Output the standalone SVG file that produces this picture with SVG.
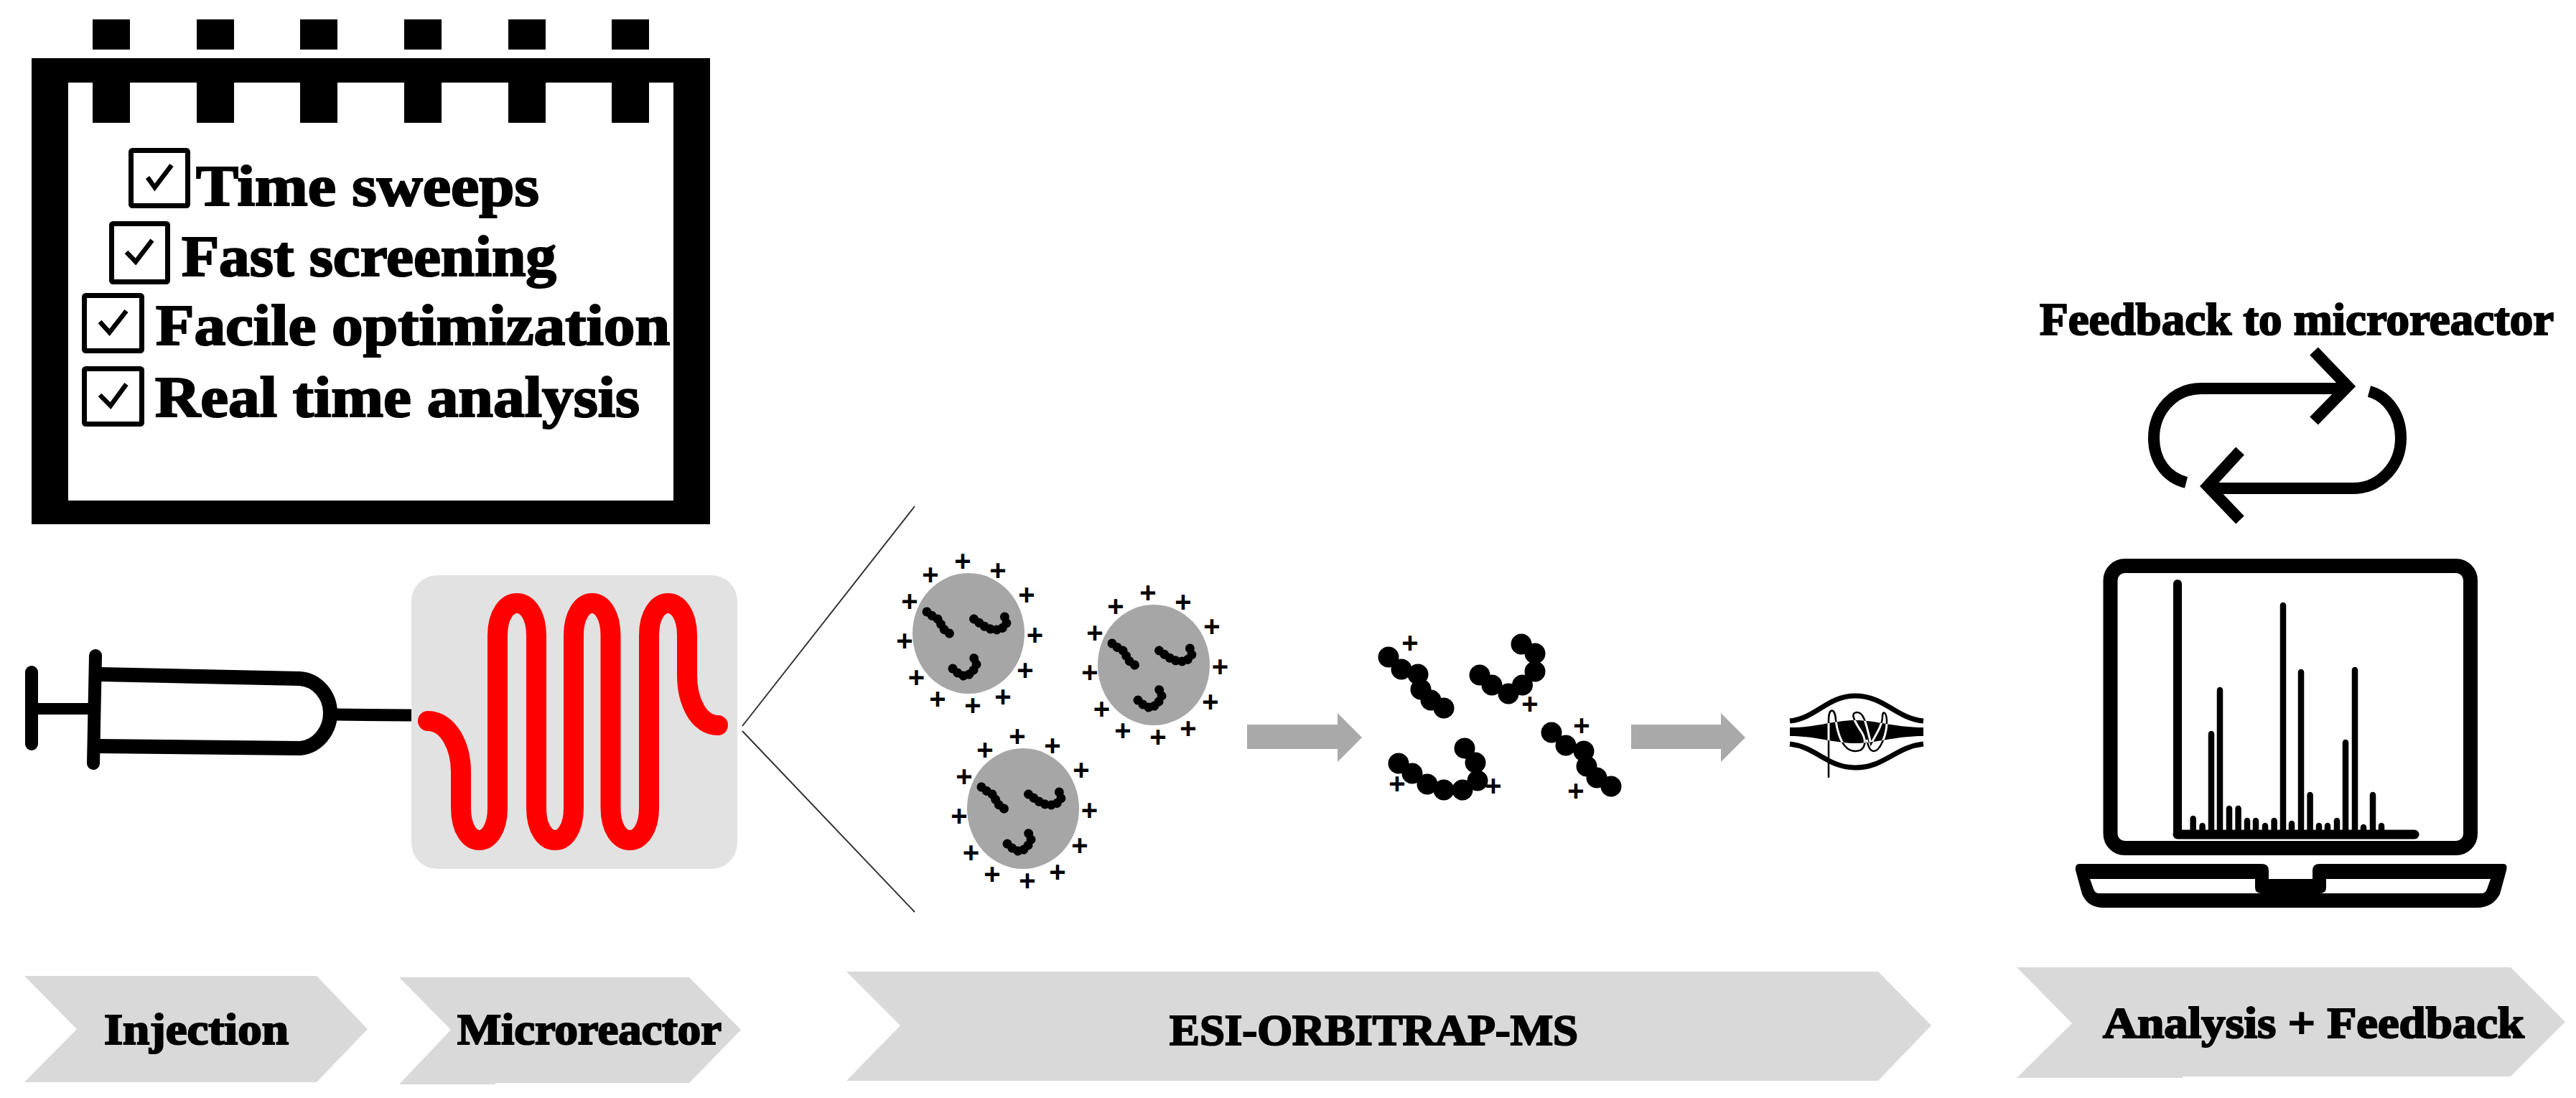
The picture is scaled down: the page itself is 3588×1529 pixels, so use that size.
<svg xmlns="http://www.w3.org/2000/svg" xmlns:xlink="http://www.w3.org/1999/xlink" width="3588" height="1529" viewBox="0 0 3588 1529">
<style>
.t{font-family:"Liberation Serif","Times New Roman",serif;font-weight:700;fill:#000;stroke:#000;stroke-width:2.200}
.p{font-family:"Liberation Sans",Arial,sans-serif;font-weight:700;font-size:40px;fill:#000;text-anchor:middle}
.chev{fill:#d9d9d9}
.box{fill:#fff;stroke:#000;stroke-width:7}
.chk{fill:none;stroke:#000;stroke-width:6.500}
.k{fill:#000}
.ln{fill:none;stroke:#000;stroke-linecap:round}
.bar{stroke:#000;stroke-width:8.500;stroke-linecap:round;fill:none}
.loop{fill:none;stroke:#000;stroke-width:16;stroke-miterlimit:10}
.gar{fill:#a9a9a9}
.bead{fill:none;stroke:#000;stroke-width:13;stroke-linecap:round;stroke-linejoin:round;stroke-dasharray:0.01 9}
</style>
<defs>
<g id="drop">
<ellipse cx="0" cy="0" rx="78" ry="84" fill="#a6a6a6"/>
<path class="bead" d="M-58 -30L-50 -24L-41 -19L-36 -7L-24 2"/>
<path class="bead" d="M7.500 -20L16 -14L25 -8L34 -5L45 -5L53 -14L50 -24L46 -29"/>
<path class="bead" d="M-22 49L-14 56L-5 60L5 55L11 43L7 33L2 29"/>
</g>
<clipPath id="spindleClip"><path d="M2493 1013C2530 1013 2555 1003 2584 1003C2613 1003 2640 1013 2679 1013L2679 1025C2640 1025 2613 1035 2584 1035C2555 1035 2530 1025 2493 1025Z"/></clipPath>
<path id="wire" d="M2547 1083L2547 1003C2547 985 2556 985 2557 1003C2560 1025 2568 1046 2584 1046C2600 1046 2600 1030 2592 1018C2580 1000 2578 992 2587 992C2597 992 2600 1012 2606 1036C2612 1024 2622 1010 2622 998C2622 988 2628 992 2628 1005C2628 1025 2618 1046 2610 1046C2604 1046 2602 1038 2600 1030"/>
</defs>

<g id="notebook">
<path class="k" fill-rule="evenodd" d="M44 81H989V730H44ZM95 115V697H938V115Z"/>
<rect class="k" x="129" y="27" width="52" height="42"/><rect class="k" x="274" y="27" width="52" height="42"/><rect class="k" x="418" y="27" width="52" height="42"/><rect class="k" x="563" y="27" width="52" height="42"/><rect class="k" x="708" y="27" width="52" height="42"/><rect class="k" x="852" y="27" width="52" height="42"/>
<rect class="k" x="129" y="112" width="52" height="59"/><rect class="k" x="274" y="112" width="52" height="59"/><rect class="k" x="418" y="112" width="52" height="59"/><rect class="k" x="563" y="112" width="52" height="59"/><rect class="k" x="708" y="112" width="52" height="59"/><rect class="k" x="852" y="112" width="52" height="59"/>
<rect class="box" x="182.500" y="209.500" width="79" height="77" rx="2"/><path class="chk" d="M205.500 247L215.500 261L239 230"/>
<rect class="box" x="155.500" y="311.500" width="78" height="81" rx="2"/><path class="chk" d="M176 351L189 364.500L212 334.500"/>
<rect class="box" x="117.500" y="411.500" width="80" height="77" rx="2"/><path class="chk" d="M139 448L152.500 463L176 433"/>
<rect class="box" x="117.500" y="513.500" width="80" height="77" rx="2"/><path class="chk" d="M139 550L154 565L176 535"/>
<text class="t" x="273" y="286" font-size="80" textLength="478" lengthAdjust="spacingAndGlyphs">Time sweeps</text>
<text class="t" x="253" y="384" font-size="80" textLength="522" lengthAdjust="spacingAndGlyphs">Fast screening</text>
<text class="t" x="217" y="480" font-size="80" textLength="716" lengthAdjust="spacingAndGlyphs">Facile optimization</text>
<text class="t" x="216" y="580" font-size="80" textLength="675" lengthAdjust="spacingAndGlyphs">Real time analysis</text>
</g>

<g id="syringe">
<path class="ln" stroke-width="18" d="M44 936V1036"/>
<path class="ln" stroke-width="16" stroke-linecap="butt" d="M44 987L130 987"/>
<path class="ln" stroke-width="18" d="M133 913L130 1063"/>
<path class="ln" stroke-width="20" stroke-linecap="butt" d="M140 939L418 945C442 947 460 968 460 993C460 1018 442 1040 418 1042L138 1039"/>
<path class="ln" stroke-width="17" stroke-linecap="butt" d="M468 995L572 996"/>
</g>

<g id="microreactor">
<rect x="573" y="801" width="454" height="409" rx="36" fill="#e2e2e2"/>
<path fill="none" stroke="#f00" stroke-width="28" stroke-linecap="round" d="M596 1004C625 1004 642 1040 642 1075L642 1125C642 1185 693 1185 693 1125L693 885C693 825 747 825 747 885L747 1125C747 1185 799 1185 799 1125L799 885C799 825 850.500 825 850.500 885L850.500 1125C850.500 1185 904 1185 904 1125L904 885C904 825 957 825 957 885L957 940C957 975 972 1010 1000 1010"/>
</g>

<g id="connectors">
<path fill="none" stroke="#333" stroke-width="2" d="M1274 705L1034 1011M1034 1018L1274 1270"/>
<path class="gar" d="M1737 1009H1863V993L1897 1027L1863 1061V1043H1737Z"/>
<path class="gar" d="M2272 1009H2397V993L2431 1027L2397 1061V1043H2272Z"/>
</g>

<g id="droplet-1" transform="translate(1349 882)">
<use href="#drop" xlink:href="#drop"/>
<text class="p" x="-8" y="-87">+</text><text class="p" x="-53" y="-68">+</text><text class="p" x="41" y="-74">+</text><text class="p" x="81" y="-40">+</text><text class="p" x="-82" y="-31">+</text><text class="p" x="92.500" y="16">+</text><text class="p" x="-89" y="24">+</text><text class="p" x="79" y="65">+</text><text class="p" x="-72.500" y="75">+</text><text class="p" x="48" y="102">+</text><text class="p" x="-43" y="105">+</text><text class="p" x="6" y="114">+</text>
</g>
<g id="droplet-2" transform="translate(1607 926)">
<use href="#drop" xlink:href="#drop"/>
<text class="p" x="-8" y="-87">+</text><text class="p" x="-53" y="-68">+</text><text class="p" x="41" y="-74">+</text><text class="p" x="81" y="-40">+</text><text class="p" x="-82" y="-31">+</text><text class="p" x="92.500" y="16">+</text><text class="p" x="-89" y="24">+</text><text class="p" x="79" y="65">+</text><text class="p" x="-72.500" y="75">+</text><text class="p" x="48" y="102">+</text><text class="p" x="-43" y="105">+</text><text class="p" x="6" y="114">+</text>
</g>
<g id="droplet-3" transform="translate(1425 1126)">
<use href="#drop" xlink:href="#drop"/>
<text class="p" x="-8" y="-87">+</text><text class="p" x="-53" y="-68">+</text><text class="p" x="41" y="-74">+</text><text class="p" x="81" y="-40">+</text><text class="p" x="-82" y="-31">+</text><text class="p" x="92.500" y="16">+</text><text class="p" x="-89" y="24">+</text><text class="p" x="79" y="65">+</text><text class="p" x="-72.500" y="75">+</text><text class="p" x="48" y="102">+</text><text class="p" x="-43" y="105">+</text><text class="p" x="6" y="114">+</text>
</g>

<g id="ions" class="k">
<circle cx="1934" cy="915" r="14.500"/><circle cx="1952" cy="932" r="14.500"/><circle cx="1975" cy="939" r="14.500"/><circle cx="1979" cy="960" r="14.500"/><circle cx="1993" cy="975" r="14.500"/><circle cx="2011" cy="986" r="14.500"/>
<circle cx="2061" cy="940" r="14.500"/><circle cx="2078" cy="954" r="14.500"/><circle cx="2101" cy="966" r="14.500"/><circle cx="2120.500" cy="954" r="14.500"/><circle cx="2138" cy="935" r="14.500"/><circle cx="2138" cy="910" r="14.500"/><circle cx="2119" cy="897" r="14.500"/>
<circle cx="1948" cy="1063" r="14.500"/><circle cx="1967" cy="1077" r="14.500"/><circle cx="1988" cy="1092" r="14.500"/><circle cx="2011" cy="1100" r="14.500"/><circle cx="2037" cy="1100" r="14.500"/><circle cx="2058" cy="1087" r="14.500"/><circle cx="2055" cy="1062" r="14.500"/><circle cx="2040" cy="1042" r="14.500"/>
<circle cx="2161" cy="1020" r="14.500"/><circle cx="2181" cy="1038" r="14.500"/><circle cx="2206" cy="1046" r="14.500"/><circle cx="2210" cy="1067" r="14.500"/><circle cx="2224" cy="1083" r="14.500"/><circle cx="2244" cy="1095" r="14.500"/>
<text class="p" x="1964" y="909">+</text><text class="p" x="2131" y="994">+</text><text class="p" x="1946" y="1105">+</text><text class="p" x="2080" y="1108">+</text><text class="p" x="2203" y="1024">+</text><text class="p" x="2195" y="1115">+</text>
</g>

<g id="orbitrap">
<path fill="none" stroke="#000" stroke-width="7" d="M2493 1004C2530 1000 2545 969 2584 969C2625 969 2640 1000 2679 1004"/>
<path fill="none" stroke="#000" stroke-width="7" d="M2493 1036C2530 1040 2545 1069 2584 1069C2625 1069 2640 1040 2679 1036"/>
<path class="k" d="M2493 1013C2530 1013 2555 1003 2584 1003C2613 1003 2640 1013 2679 1013L2679 1025C2640 1025 2613 1035 2584 1035C2555 1035 2530 1025 2493 1025Z"/>
<use href="#wire" xlink:href="#wire" fill="none" stroke="#000" stroke-width="2.500"/>
<g clip-path="url(#spindleClip)"><use href="#wire" xlink:href="#wire" fill="none" stroke="#fff" stroke-width="3"/></g>
</g>

<g id="feedback">
<text class="t" x="2841" y="466" font-size="64" textLength="716" lengthAdjust="spacingAndGlyphs">Feedback to microreactor</text>
<path class="loop" d="M3270 541L3066 541C3028 541 3000 572 3000 610C3000 642 3018 665 3045 672"/>
<path class="loop" d="M3300 545C3326 552 3344 578 3344 610C3344 648 3316 680 3277 680L3074 680"/>
<polyline class="loop" points="3223,489 3270,538 3223,586"/>
<polyline class="loop" points="3120,628 3075,677 3120,724"/>
</g>

<g id="laptop">
<rect x="2939.500" y="788" width="501.500" height="393" rx="20" fill="#fff" stroke="#000" stroke-width="20"/>
<path class="ln" stroke-width="12" d="M3033 813V1162"/>
<path class="ln" stroke-width="13" d="M3033 1162H3363"/>
<path class="bar" d="M3054.700 1140V1162M3067.600 1150V1162M3080 1022V1162M3092 961V1162M3105 1126V1162M3117.600 1126V1162M3130 1143V1162M3142 1143V1162M3155 1150V1162M3167.600 1143V1162M3180 843V1162M3192 1147V1162M3205 936V1162M3217.600 1107V1162M3230 1150V1162M3242 1150V1162M3255 1143V1162M3267 1034V1162M3280 933V1162M3292 1152V1162M3305 1107V1162M3317 1150V1162"/>
<path class="k" d="M2896 1203L3150 1203Q3160 1203 3160 1212L3160 1224L3221 1224L3221 1212Q3221 1203 3231 1203L3487 1203Q3493 1203 3491 1212L3482 1245Q3472 1264 3450 1264L2930 1264Q2908 1264 2900 1245L2891 1212Q2890 1203 2896 1203Z"/>
<path fill="#fff" d="M2911 1224L3141 1224L3141 1236Q3141 1244 3150 1244L2924 1244Q2918 1244 2916 1238Z"/>
<path fill="#fff" d="M3240 1224L3469 1224L3464 1238Q3462 1244 3456 1244L3231 1244Q3240 1244 3240 1236Z"/>
</g>

<g id="step-injection">
<path class="chev" d="M34 1359H441L512 1433L441 1507H34L107 1433Z"/>
<text class="t" x="145" y="1454" font-size="62" textLength="257" lengthAdjust="spacingAndGlyphs">Injection</text>
</g>
<g id="step-microreactor">
<path class="chev" d="M556 1361H960L1032 1434L960 1508H690V1510H556L628 1434Z"/>
<text class="t" x="637" y="1454" font-size="62" textLength="368" lengthAdjust="spacingAndGlyphs">Microreactor</text>
</g>
<g id="step-esi">
<path class="chev" d="M1179 1353H2616L2690 1428L2616 1505H1179L1254 1428Z"/>
<text class="t" x="1629" y="1455" font-size="62" textLength="569" lengthAdjust="spacingAndGlyphs">ESI-ORBITRAP-MS</text>
</g>
<g id="step-analysis">
<path class="chev" d="M2809 1347H3497L3573 1423L3497 1499H3040V1501H2809L2886 1425Z"/>
<text class="t" x="2929" y="1445" font-size="62" textLength="587" lengthAdjust="spacingAndGlyphs">Analysis + Feedback</text>
</g>
</svg>
